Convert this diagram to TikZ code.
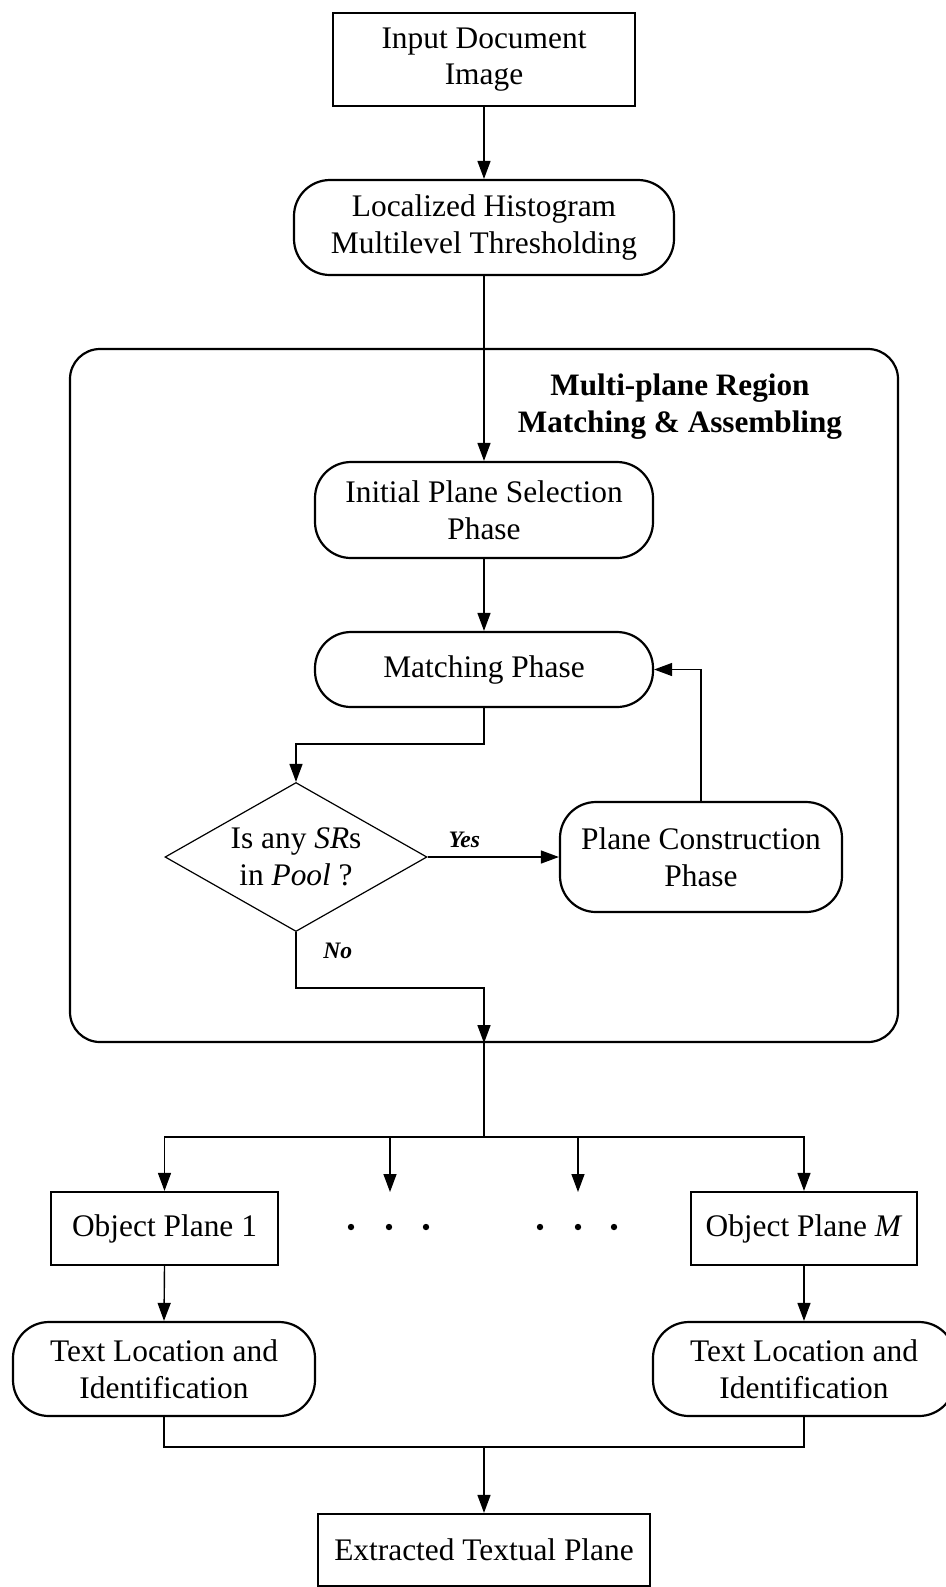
\documentclass[tikz,border=0pt]{standalone}
\usepackage{fontspec}
\setmainfont{Liberation Serif}
\usetikzlibrary{shapes.geometric,arrows.meta}
\tikzset{
	box/.style={draw, line width=1.1pt, align=center, inner sep=2pt, font=\fontsize{15.7}{18.4}\selectfont},
	proc/.style={box, rounded corners=18pt},
	cond/.style={draw, diamond, aspect=1.76, line width=0.6pt, align=center, inner sep=0pt, font=\fontsize{15.7}{18.4}\selectfont},
	group/.style={draw, line width=1.1pt, rounded corners=15pt},
	flow/.style={line width=0.7pt, -{Triangle[length=9pt,width=6.5pt]}},
	link/.style={line width=0.7pt},
	tag/.style={font=\fontsize{11.8}{14}\selectfont\bfseries\itshape},
	headline/.style={align=center, font=\fontsize{15.6}{18.4}\selectfont\bfseries}
}
\begin{document}
\begin{tikzpicture}[x=0.5pt,y=-0.5pt]
			\useasboundingbox (0,0) rectangle (946,1587);
			\clip (0,0) rectangle (946,1587);
			\node[group, minimum width=414pt, minimum height=346.5pt] (stage) at (484,695.5) {};
			\node[headline] (title) at (680,407) {Multi-plane Region\\Matching \& Assembling};
			\node[box, minimum width=151pt, minimum height=46.5pt] (input) at (484,59.5) {Input Document\\Image};
			\node[proc, minimum width=190pt, minimum height=47.5pt] (local) at (484,227.5) {Localized Histogram\\Multilevel Thresholding};
			\node[proc, minimum width=169pt, minimum height=48pt] (init) at (484,510) {Initial Plane Selection\\Phase};
			\node[proc, minimum width=169pt, minimum height=37.5pt] (match) at (484,669.5) {Matching Phase};
			\node[cond, minimum width=131pt, minimum height=74.5pt] (pool) at (296,857) {Is any \textit{SR}s\\in \textit{Pool} ?};
			\node[proc, minimum width=141pt, minimum height=55pt] (build) at (701,857) {Plane Construction\\Phase};
			\node[box, minimum width=113.5pt, minimum height=36.5pt] (obj1) at (164.5,1228.5) {Object Plane 1};
			\node[box, minimum width=113pt, minimum height=36.5pt] (objM) at (804,1228.5) {Object Plane \textit{M}};
			\node[proc, minimum width=151pt, minimum height=47pt] (text1) at (164,1369) {Text Location and\\Identification};
			\node[proc, minimum width=151pt, minimum height=47pt] (textM) at (804,1369) {Text Location and\\Identification};
			\node[box, minimum width=166pt, minimum height=36pt] (ext) at (484,1550) {Extracted Textual Plane};
			\coordinate (turn) at (484,744);
			\coordinate (nobend) at (296,988);
			\coordinate (split) at (484,1137);
			\coordinate (dotsA) at (390,1192);
			\coordinate (dotsB) at (578,1192);
			\coordinate (merge) at (484,1447);
			\draw[flow] (input.south) -- (local.north);
			\draw[flow] (local.south) -- (init.north);
			\draw[flow] (init.south) -- (match.north);
			\draw[flow] (match.south) -- (turn) -| (pool.north);
			\draw[flow] (pool.east) -- node[tag, pos=0.28, above=1pt] {Yes} (build.west);
			\draw[flow] (build.north) |- (match.east);
			\draw[flow] (pool.south) -- node[tag, pos=0.33, right=10pt] {No} (nobend) -| (stage.south);
			\draw[link] (stage.south) -- (split);
			\draw[flow] (split) -| (obj1.north);
			\draw[flow] (split) -| (dotsA);
			\draw[flow] (split) -| (dotsB);
			\draw[flow] (split) -| (objM.north);
			\foreach \x in {351,389,426,540,578,614}
				\fill (\x,1227) circle (1.6pt);
			\draw[flow] (obj1.south) -- (text1.north);
			\draw[flow] (objM.south) -- (textM.north);
			\draw[link] (text1.south) |- (merge);
			\draw[link] (textM.south) |- (merge);
			\draw[flow] (merge) -- (ext.north);
		\end{tikzpicture}
\end{document}
